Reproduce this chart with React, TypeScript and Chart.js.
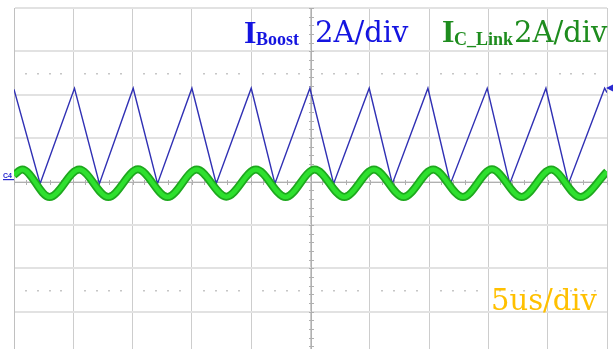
import React, { useEffect, useRef } from "react";
import { Chart, registerables } from "chart.js";

Chart.register(...registerables);

// time axis (us) and current axis (A)
const timeRange = [0, 50];
const currentRange = [-8, 8];
const timeStep = 5;
const currentStep = 2;

// I_Boost triangle wave: vertices (us, A)
const boostTimes = [0, 2.2, 5.1, 7.2, 10.05, 12.1, 15.0, 17.05, 20.0, 22.0, 24.95, 26.95, 29.95, 31.9, 34.9, 36.8, 39.9, 41.8, 44.85, 46.75, 49.8, 50];
const boostValues = [4.25, -0.1, 4.3, -0.1, 4.3, -0.1, 4.3, -0.1, 4.3, -0.1, 4.3, -0.1, 4.3, -0.1, 4.3, -0.1, 4.3, -0.1, 4.3, -0.1, 4.3, 4.1];

// I_C_Link ripple: extrema (us, A)
const linkTimes = [0, 0.7, 3.0, 5.5, 7.95, 10.45, 12.95, 15.4, 17.9, 20.4, 22.9, 25.35, 27.85, 30.35, 32.85, 35.35, 37.85, 40.3, 42.8, 45.3, 47.75, 50];
const linkValues = [0.3, 0.55, -0.72, 0.55, -0.72, 0.56, -0.72, 0.55, -0.7, 0.55, -0.72, 0.55, -0.72, 0.55, -0.72, 0.55, -0.72, 0.56, -0.72, 0.55, -0.72, 0.45];

// cursor lines (A)
const cursorLevels = [5, -5];

// labels
const boostMain = "I";
const boostSub = "Boost";
const boostScale = "2A/div";
const linkMain = "I";
const linkSub = "C_Link";
const linkScale = "2A/div";
const timeScale = "5us/div";
const channelLabel = "C4";

const BLUE_TEXT = "#1414e0";
const GREEN_TEXT = "#1e8c1e";
const GOLD_TEXT = "#ffc000";
const TRACE_BLUE = "#3030b4";

const overlayPlugin = {
  id: "scopeOverlay",
  beforeDatasetsDraw(chart: any) {
    const { ctx, chartArea: a, scales } = chart;
    const x = scales.x;
    const y = scales.y;
    ctx.save();
    // dotted cursor lines
    ctx.fillStyle = "#c6c6c6";
    for (const lv of cursorLevels) {
      const py = Math.round(y.getPixelForValue(lv));
      for (let t = timeRange[0] + 1; t < timeRange[1]; t += 1) {
        if (t % timeStep === 0) continue;
        const px = Math.round(x.getPixelForValue(t));
        ctx.fillRect(px - 1, py, 2, 1.5);
      }
    }
    // center axes
    const cy = Math.round(y.getPixelForValue(0)) + 0.5;
    const cx = Math.round(x.getPixelForValue((timeRange[0] + timeRange[1]) / 2)) + 0.5;
    ctx.strokeStyle = "#b0b0b0";
    ctx.lineWidth = 1;
    ctx.beginPath();
    ctx.moveTo(a.left, cy);
    ctx.lineTo(a.right, cy);
    ctx.moveTo(cx, a.top);
    ctx.lineTo(cx, a.bottom);
    ctx.stroke();
    ctx.beginPath();
    for (let t = timeRange[0]; t <= timeRange[1]; t += 1) {
      const px = Math.round(x.getPixelForValue(t)) + 0.5;
      ctx.moveTo(px, cy - 2.5);
      ctx.lineTo(px, cy + 2.5);
    }
    for (let i = 0; i <= 40; i++) {
      const v = currentRange[0] + i * 0.4;
      const py = Math.round(y.getPixelForValue(v)) + 0.5;
      ctx.moveTo(cx - 2.5, py);
      ctx.lineTo(cx + 2.5, py);
    }
    ctx.stroke();
    ctx.restore();
  },
  afterDraw(chart: any) {
    const { ctx, scales } = chart;
    const y = scales.y;
    ctx.save();
    ctx.textBaseline = "alphabetic";
    // I_Boost label
    ctx.fillStyle = BLUE_TEXT;
    ctx.font = "bold 32px 'Liberation Serif'";
    ctx.fillText(boostMain, 244, 43);
    ctx.font = "bold 18px 'Liberation Serif'";
    ctx.fillText(boostSub, 256, 45);
    ctx.font = "29px 'DejaVu Serif'";
    ctx.fillText(boostScale, 315, 42);
    // I_C_Link label
    ctx.fillStyle = GREEN_TEXT;
    ctx.font = "bold 32px 'Liberation Serif'";
    ctx.fillText(linkMain, 442, 42);
    ctx.font = "bold 18px 'Liberation Serif'";
    ctx.fillText(linkSub, 454, 45);
    ctx.font = "29px 'DejaVu Serif'";
    ctx.fillText(linkScale, 514, 42);
    // time base
    ctx.fillStyle = GOLD_TEXT;
    ctx.font = "29px 'DejaVu Serif'";
    ctx.fillText(timeScale, 491, 310);
    // channel marker
    const cy = Math.round(y.getPixelForValue(0));
    ctx.fillStyle = "#2a2ad0";
    ctx.font = "bold 7px 'Liberation Sans'";
    ctx.fillText(channelLabel, 3, cy - 4);
    ctx.fillRect(3, cy - 3, 11, 1.2);
    // trigger level arrow
    const ty = Math.round(y.getPixelForValue(4.3));
    ctx.beginPath();
    ctx.moveTo(606, ty);
    ctx.lineTo(613, ty - 3.5);
    ctx.lineTo(613, ty + 3.5);
    ctx.closePath();
    ctx.fill();
    ctx.restore();
  },
};

export default function App() {
  const ref = useRef<HTMLCanvasElement | null>(null);
  useEffect(() => {
    document.body.style.margin = "0";
    document.body.style.background = "#ffffff";
    const canvas = ref.current;
    if (!canvas) return;
    const boostData = boostTimes.map((t, i) => ({ x: t, y: boostValues[i] }));
    const linkData = linkTimes.map((t, i) => ({ x: t, y: linkValues[i] }));
    const chart = new Chart(canvas, {
      type: "line",
      data: {
        datasets: [
          {
            label: "I_C_Link core",
            data: linkData,
            borderColor: "#2ee02e",
            borderWidth: 4.5,
            pointRadius: 0,
            cubicInterpolationMode: "monotone",
            order: 0,
          },
          {
            label: "I_C_Link",
            data: linkData,
            borderColor: "#1ea81e",
            borderWidth: 8,
            pointRadius: 0,
            cubicInterpolationMode: "monotone",
            order: 1,
          },
          {
            label: "I_Boost",
            data: boostData,
            borderColor: TRACE_BLUE,
            borderWidth: 1.4,
            pointRadius: 0,
            tension: 0,
            order: 2,
          },
        ],
      },
      options: {
        animation: false,
        responsive: false,
        maintainAspectRatio: false,
        events: [],
        layout: { padding: { left: 14, right: 6, top: 8, bottom: 5 } },
        plugins: { legend: { display: false }, tooltip: { enabled: false }, title: { display: false } },
        scales: {
          x: {
            type: "linear",
            min: timeRange[0],
            max: timeRange[1],
            ticks: { display: false, stepSize: timeStep },
            grid: { color: "#cdcdcd", lineWidth: 1, drawTicks: false },
            border: { display: true, color: "#c8c8c8" },
          },
          y: {
            type: "linear",
            min: currentRange[0],
            max: currentRange[1],
            ticks: { display: false, stepSize: currentStep },
            grid: { color: "#e2e2e2", lineWidth: 2, drawTicks: false },
            border: { display: true, color: "#c0c0c0" },
          },
        },
      },
      plugins: [overlayPlugin],
    });
    return () => chart.destroy();
  }, []);
  return (
    <div style={{ width: 613, height: 349, overflow: "hidden", position: "relative", background: "#fff" }}>
      <canvas ref={ref} width={613} height={360} style={{ display: "block", width: 613, height: 360 }} />
    </div>
  );
}
